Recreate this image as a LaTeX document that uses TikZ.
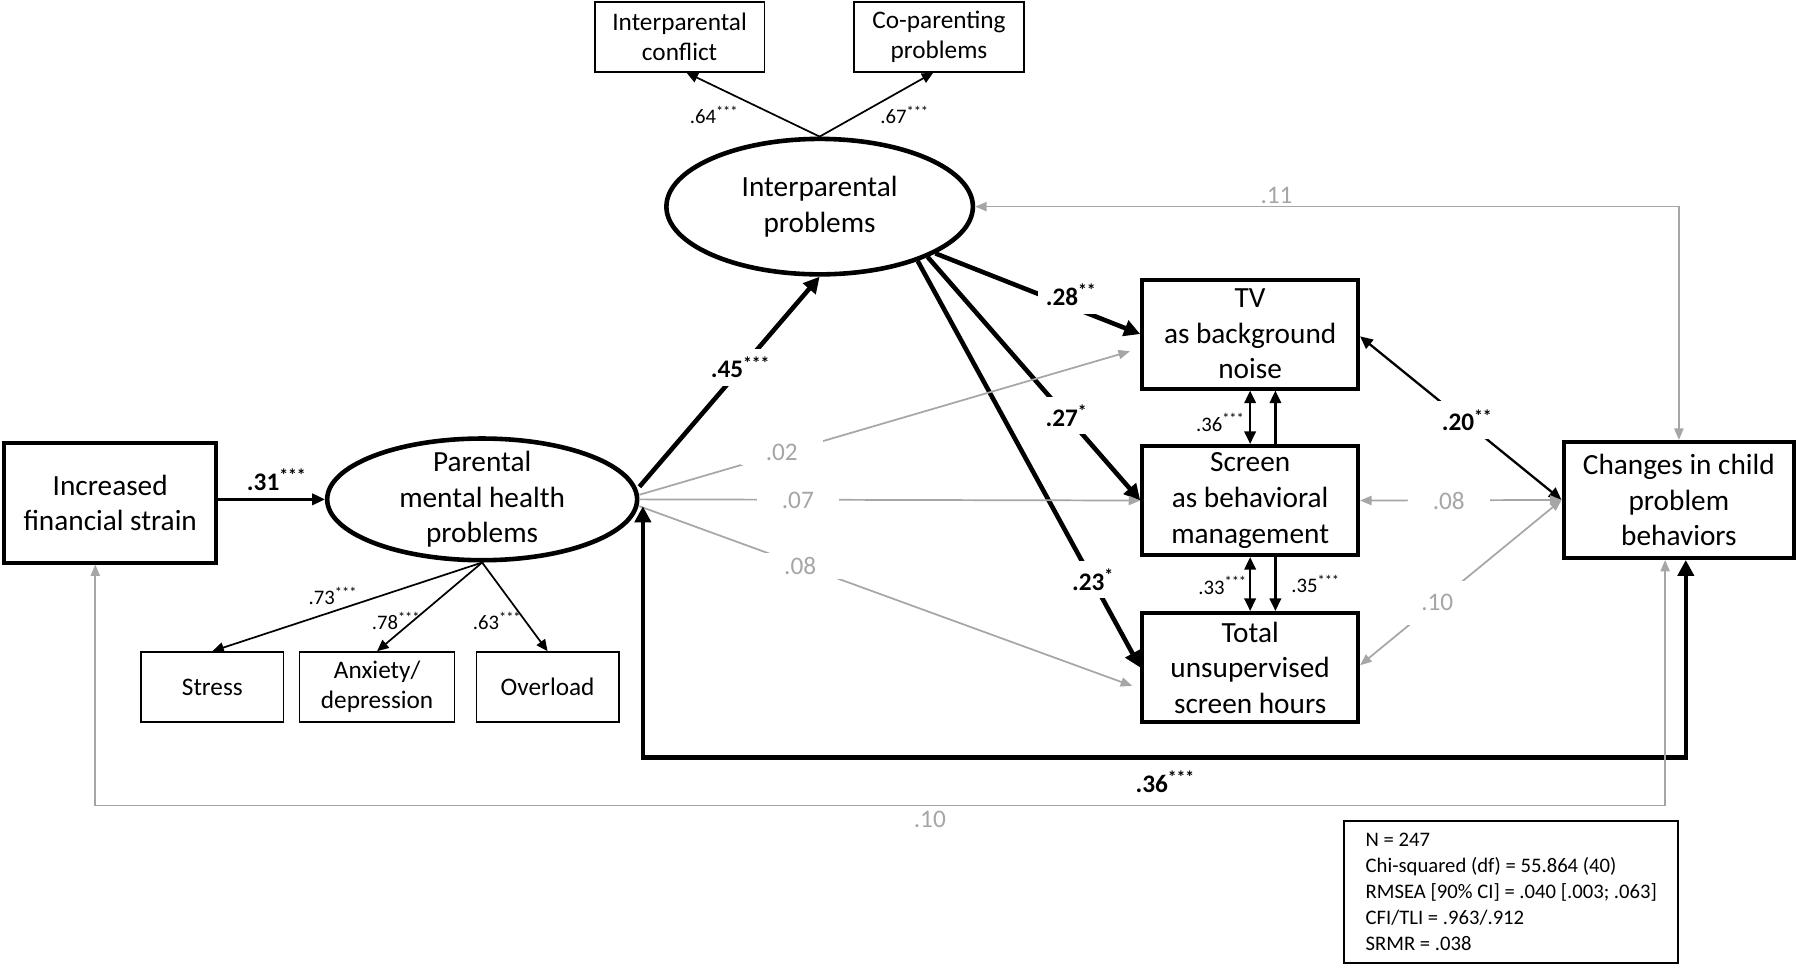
\documentclass[tikz,border=0pt]{standalone}
\usepackage{fontspec}
\setmainfont{Carlito}
\usepackage{tikz}
\usetikzlibrary{shapes.geometric, arrows.meta}
\usepackage{xcolor}
\definecolor{nsgray}{HTML}{A6A6A6}
\newcommand{\sigstar}[1]{\textsuperscript{#1}}

\begin{document}
\begin{tikzpicture}[x=1pt, y=-1pt,
    bigfont/.style={font=\fontsize{25.5}{31}\selectfont},
    obs/.style={draw, rectangle, line width=3.5pt, inner sep=0pt, align=center, bigfont},
    ind/.style={draw, rectangle, line width=1.5pt, inner sep=0pt, align=center,
        minimum height=61pt, font=\fontsize{22}{26}\selectfont},
    latent/.style={draw, ellipse, line width=4pt, inner sep=0pt},
    coef/.style={inner sep=1pt, font=\bfseries\fontsize{22}{26}\selectfont},
    gap/.style={fill=white, inner sep=7pt},
    coefns/.style={fill=white, inner xsep=22pt, inner ysep=4pt, text=nsgray,
        font=\fontsize{22}{26}\selectfont},
    load/.style={inner sep=1pt, font=\fontsize{18}{22}\selectfont},
    path heavy/.style={line width=4pt, >={Triangle[length=14pt, width=14pt]}},
    path mid/.style={line width=2pt, >={Triangle[length=11pt, width=10pt]}},
    path thin/.style={line width=1.5pt, >={Triangle[length=10pt, width=9pt]}},
    path ns/.style={line width=1.5pt, draw=nsgray, >={Triangle[length=10pt, width=8pt]}},
]
\useasboundingbox (0,0) rectangle (1568,841);
\fill[white] (0,0) rectangle (1568,841);

% observed variables
\node[obs, minimum width=185pt, minimum height=104pt] (fin) at (96,438) {Increased\\financial strain};
\node[obs, minimum width=188pt, minimum height=95pt] (tv) at (1089,291) {TV\\as background\\noise};
\node[obs, minimum width=188pt, minimum height=95pt] (screen) at (1089,436) {Screen\\as behavioral\\management};
\node[obs, minimum width=188pt, minimum height=95pt] (total) at (1089,581.5) {Total\\unsupervised\\screen hours};
\node[obs, minimum width=201pt, minimum height=101pt] (change) at (1462.5,435.5) {Changes in child\\problem\\behaviors};

% latent variables
\node[latent, minimum width=270pt, minimum height=106pt] (pmh) at (420,435) {};
\node[align=center, bigfont] (pmh-text) at (pmh) {Parental\\mental health\\problems};
\node[latent, minimum width=267pt, minimum height=118pt] (ip) at (714,180) {};
\node[align=center, bigfont] (ip-text) at (ip) {Interparental\\problems};

% indicators
\node[ind, minimum width=148pt] (conflict) at (592,32) {Interparental\\conflict};
\node[ind, minimum width=148pt] (copar) at (818,32) {Co-parenting\\problems};
\node[ind, minimum width=124pt] (stress) at (185,598.5) {Stress};
\node[ind, minimum width=135pt] (anxdep) at (328.5,598.5) {Anxiety/\\depression};
\node[ind, minimum width=124pt] (overload) at (477,598.5) {Overload};

% fit indices
\node[draw, line width=1.5pt, minimum width=291pt, minimum height=124pt, align=left,
      font=\fontsize{18}{22.5}\selectfont] (fit) at (1316.5,777)
  {N = 247\\Chi-squared (df) = 55.864 (40)\\RMSEA [90\% CI] = .040 [.003; .063]\\CFI/TLI = .963/.912\\SRMR = .038};

% loadings
\draw[path thin, ->] (ip.north) -- ([xshift=6pt]conflict.south);
\draw[path thin, ->] (ip.north) -- ([xshift=-5pt]copar.south);
\draw[path thin, ->] (pmh.south) -- (stress.north);
\draw[path thin, ->] (pmh.south) -- (anxdep.north);
\draw[path thin, ->] (pmh.south) -- (overload.north);

% structural paths
\draw[path mid, ->] (fin.east |- pmh.west) -- (pmh.west);
\draw[path heavy, ->] ([yshift=11pt]pmh.east) -- (ip.south);
\draw[path heavy, ->] (ip.-22) -- (tv.west);
\draw[path heavy, ->] (ip.-25) -- (screen.west);
\draw[path heavy, ->] (ip.-29) -- (total.west);
\draw[path ns, ->] ([yshift=4pt]pmh.east) -- ([xshift=-9pt,yshift=-15pt]tv.west);
\draw[path ns, ->] (pmh.east) -- (screen.west);
\draw[path ns, ->] ([yshift=-6pt]pmh.east) -- ([xshift=-7pt,yshift=-16pt]total.west);

% screen use
\draw[path mid, <->] (tv.south) -- (screen.north);
\draw[path mid, ->] ([xshift=22pt]screen.north) -- ([xshift=22pt]tv.south);
\draw[path mid, <->] (screen.south) -- (total.north);
\draw[path mid, ->] ([xshift=22pt]screen.south) -- ([xshift=22pt]total.north);

% to the outcome
\draw[path mid, <->] ([yshift=-2pt]tv.east) -- (change.west);
\draw[path ns, <->] (screen.east) -- (change.west);
\draw[path ns, <->] ([yshift=2pt]total.east) -- (change.west);
\draw[path ns, <->] (ip.east) -| (change.north);
\draw[path heavy, <->] ([xshift=3pt,yshift=-6pt]pmh.east) -- ++(0,219) -| ([xshift=6pt]change.south);
\draw[path ns, <->] ([xshift=-13pt]fin.south) -- ++(0,210) -| ([xshift=-12pt]change.south);

% coefficients
\node[coef] (b31) at (241,418) {.31\sigstar{***}};
\node[coef, gap] (b45) at (645,320) {.45\sigstar{***}};
\node[coef, gap] (b28) at (933,257) {.28\sigstar{**}};
\node[coef, gap] (b27) at (929,362) {.27\sigstar{*}};
\node[coef, gap] (b23) at (952,505) {.23\sigstar{*}};
\node[coef, gap] (b20) at (1278,366) {.20\sigstar{**}};
\node[coef] (b36) at (1015,681) {.36\sigstar{***}};
\node[coefns] (n02) at (681,394) {.02};
\node[coefns] (n07) at (695,436) {.07};
\node[coefns] (n08) at (697,493) {.08};
\node[coefns] (n08b) at (1262,436) {.08};
\node[coefns, inner sep=12pt] (n10b) at (1252,525) {.10};
\node[coefns, fill=none] (n11) at (1112,170) {.11};
\node[coefns, fill=none] (n10) at (810,714) {.10};
\node[load] (l64) at (622,100) {.64\sigstar{***}};
\node[load] (l67) at (788,100) {.67\sigstar{***}};
\node[load] (l73) at (290,519) {.73\sigstar{***}};
\node[load] (l78) at (345,541) {.78\sigstar{***}};
\node[load] (l63) at (433,541) {.63\sigstar{***}};
\node[load] (l36) at (1063,368) {.36\sigstar{***}};
\node[load] (l33) at (1065,510) {.33\sigstar{***}};
\node[load] (l35) at (1146,509) {.35\sigstar{***}};
\end{tikzpicture}
\end{document}
